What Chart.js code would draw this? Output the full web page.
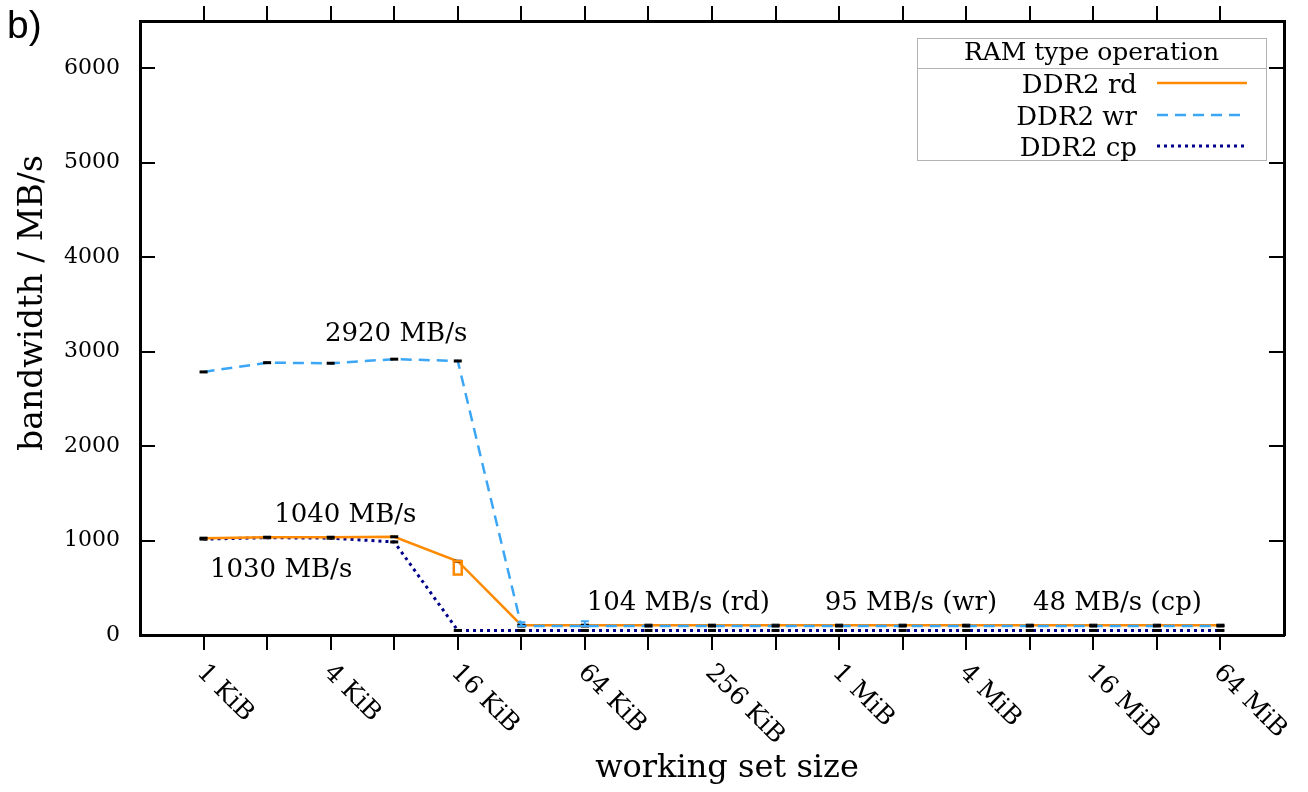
<!DOCTYPE html>
<html><head><meta charset="utf-8">
<script src="https://cdn.jsdelivr.net/npm/chart.js@4.4.1/dist/chart.umd.min.js"></script>
<style>html,body{margin:0;padding:0;background:#fff}canvas{display:block}</style>
</head><body>
<canvas id="c" width="1308" height="792"></canvas>
<script>
// ---- data ----
const sizes = ['1 KiB','2 KiB','4 KiB','8 KiB','16 KiB','32 KiB','64 KiB','128 KiB','256 KiB','512 KiB',
               '1 MiB','2 MiB','4 MiB','8 MiB','16 MiB','32 MiB','64 MiB'];
const tickLabels = ['1 KiB','','4 KiB','','16 KiB','','64 KiB','','256 KiB','','1 MiB','','4 MiB','','16 MiB','','64 MiB'];
const rdValues = [1025,1035,1035,1040,781,104,104,104,104,104,104,104,104,104,104,104,104];
const wrValues = [2785,2883,2877,2920,2901,95,95,95,95,95,95,95,95,95,95,95,95];
const cpValues = [1015,1030,1025,985,48,48,48,48,48,48,48,48,48,48,48,48,48];
const rdErrors = [[4, 640, 781]];           // [index, low, high]
const wrErrors = [[5, 95, 135], [6, 95, 145]];
const yTickValues = [0,1000,2000,3000,4000,5000,6000];
const seriesLabels = ['DDR2 rd','DDR2 wr','DDR2 cp'];
const legendTitle = 'RAM type operation';
const annotationTexts = ['2920 MB/s','1040 MB/s','1030 MB/s','104 MB/s (rd)','95 MB/s (wr)','48 MB/s (cp)'];

const SERIF = '"DejaVu Serif", serif';
const toPts = arr => arr.map((v, i) => ({x: i, y: v}));

const annotationPlacement = [
  {x: 3.03, y: 3180}, {x: 2.23, y: 1272}, {x: 1.22, y: 689},
  {x: 7.47, y: 339}, {x: 11.13, y: 339}, {x: 14.38, y: 339}
];

const customPlugin = {
  id: 'custom',
  afterDatasetsDraw(chart) {
    const ctx = chart.ctx, xs = chart.scales.x, ys = chart.scales.y;
    ctx.save();
    const rdDs = chart.data.datasets[0];
    ctx.strokeStyle = rdDs.borderColor; ctx.lineWidth = 2.5; ctx.setLineDash([]);
    rdErrors.forEach(([i, lo, hi]) => {
      const px = xs.getPixelForValue(i), y1 = ys.getPixelForValue(hi), y2 = ys.getPixelForValue(lo);
      ctx.strokeRect(px - 4, y1, 8, y2 - y1);
    });
    const wrDs = chart.data.datasets[1];
    ctx.strokeStyle = wrDs.borderColor; ctx.lineWidth = 2;
    wrErrors.forEach(([i, lo, hi]) => {
      const px = xs.getPixelForValue(i), y1 = ys.getPixelForValue(hi), y2 = ys.getPixelForValue(lo);
      ctx.beginPath();
      ctx.moveTo(px, y1); ctx.lineTo(px, y2);
      ctx.moveTo(px - 4, y1); ctx.lineTo(px + 4, y1);
      ctx.moveTo(px - 4, y2); ctx.lineTo(px + 4, y2);
      ctx.stroke();
    });
    ctx.restore();
  },
  afterDraw(chart) {
    const ctx = chart.ctx, xs = chart.scales.x, ys = chart.scales.y, ca = chart.chartArea;
    ctx.save();
    ctx.fillStyle = '#000';
    ctx.font = '25px ' + SERIF;
    tickLabels.forEach((t, i) => {
      if (!t) return;
      const px = xs.getPixelForValue(i);
      ctx.save();
      ctx.translate(px - 3, ca.bottom + 34);
      ctx.rotate(Math.PI / 4);
      ctx.textAlign = 'left'; ctx.textBaseline = 'middle';
      ctx.fillText(t, 0, 0);
      ctx.restore();
    });
    ctx.font = '32px ' + SERIF;
    ctx.textAlign = 'center'; ctx.textBaseline = 'alphabetic';
    ctx.fillText('working set size', 727, 777);
    ctx.save();
    ctx.translate(42, 303); ctx.rotate(-Math.PI / 2);
    ctx.font = '33px ' + SERIF;
    ctx.fillText('bandwidth / MB/s', 0, 0);
    ctx.restore();
    ctx.font = '39px "Liberation Sans", Arial, sans-serif';
    ctx.textAlign = 'left';
    ctx.fillText('b)', 7, 38);
    ctx.font = '26px ' + SERIF;
    ctx.textAlign = 'center'; ctx.textBaseline = 'middle';
    annotationTexts.forEach((t, k) => {
      const p = annotationPlacement[k];
      ctx.fillText(t, xs.getPixelForValue(p.x), ys.getPixelForValue(p.y));
    });
    const L = {x1: 917, x2: 1266, y1: 38, y2: 160};
    ctx.fillStyle = '#fff';
    ctx.fillRect(L.x1, L.y1, L.x2 - L.x1, L.y2 - L.y1);
    ctx.strokeStyle = '#b4b4b4'; ctx.lineWidth = 1; ctx.setLineDash([]);
    ctx.strokeRect(L.x1 + 0.5, L.y1 + 0.5, L.x2 - L.x1, L.y2 - L.y1);
    ctx.beginPath(); ctx.moveTo(L.x1, 68.5); ctx.lineTo(L.x2, 68.5); ctx.stroke();
    ctx.fillStyle = '#000';
    ctx.font = '25px ' + SERIF;
    ctx.textAlign = 'center'; ctx.textBaseline = 'alphabetic';
    ctx.fillText(legendTitle, (L.x1 + L.x2) / 2, 60);
    const rowY = [83, 115, 146];
    ctx.font = '26px ' + SERIF;
    chart.data.datasets.forEach((ds, k) => {
      ctx.fillStyle = '#000';
      ctx.textAlign = 'right'; ctx.textBaseline = 'alphabetic';
      ctx.fillText(ds.label, 1137, rowY[k] + 10);
      ctx.strokeStyle = ds.borderColor; ctx.lineWidth = ds.borderWidth;
      ctx.setLineDash(ds.borderDash || []);
      ctx.beginPath(); ctx.moveTo(1157, rowY[k]); ctx.lineTo(1247, rowY[k]); ctx.stroke();
    });
    ctx.restore();
  }
};

const xTicks = scale => { scale.ticks = sizes.map((_, i) => ({value: i})); };
const yTicks = scale => { scale.ticks = yTickValues.map(v => ({value: v})); };
const noPad = s => { s.paddingTop = 0; s.paddingBottom = 0; s.paddingLeft = 0; s.paddingRight = 0; };

const markerOpts = {pointStyle: 'line', pointRadius: 4, pointHoverRadius: 4, pointBorderWidth: 3,
                    pointBorderColor: '#000', pointBackgroundColor: '#000'};
const gridOpts = (len) => ({drawOnChartArea: false, drawTicks: true, tickLength: len, lineWidth: 2, color: '#000'});
const borderOpts = {display: true, color: '#000', width: 3};

new Chart(document.getElementById('c'), {
  type: 'line',
  data: {
    datasets: [
      Object.assign({label: seriesLabels[0], data: toPts(rdValues), borderColor: '#ff8a00', borderWidth: 2.5,
        borderDash: [], tension: 0, order: 1}, markerOpts),
      Object.assign({label: seriesLabels[1], data: toPts(wrValues), borderColor: '#3aa6f5', borderWidth: 2.5,
        borderDash: [11, 7], tension: 0, order: 0}, markerOpts),
      Object.assign({label: seriesLabels[2], data: toPts(cpValues), borderColor: '#00008b', borderWidth: 3,
        borderDash: [3, 4], tension: 0, order: 2}, markerOpts)
    ]
  },
  options: {
    responsive: false,
    animation: false,
    events: [],
    layout: {padding: 0},
    plugins: {legend: {display: false}, tooltip: {enabled: false}},
    scales: {
      x: {
        type: 'linear', position: 'bottom', min: -1, max: 17,
        ticks: {display: false, autoSkip: false},
        afterBuildTicks: xTicks,
        afterFit: s => { s.height = 157; noPad(s); },
        grid: gridOpts(15), border: borderOpts
      },
      x2: {
        type: 'linear', position: 'top', min: -1, max: 17,
        ticks: {display: false, autoSkip: false},
        afterBuildTicks: xTicks,
        afterFit: s => { s.height = 21; noPad(s); },
        grid: gridOpts(15), border: borderOpts
      },
      y: {
        type: 'linear', position: 'left', min: 0, max: 6500,
        ticks: {autoSkip: false, padding: 35, color: '#000', font: {family: SERIF, size: 22},
                callback: v => String(v)},
        afterBuildTicks: yTicks,
        afterFit: s => { s.width = 140; noPad(s); },
        grid: gridOpts(-15), border: borderOpts
      },
      y2: {
        type: 'linear', position: 'right', min: 0, max: 6500,
        ticks: {display: false, autoSkip: false},
        afterBuildTicks: yTicks,
        afterFit: s => { s.width = 24; noPad(s); },
        grid: gridOpts(-15), border: borderOpts
      }
    }
  },
  plugins: [customPlugin]
});
</script>
</body></html>
